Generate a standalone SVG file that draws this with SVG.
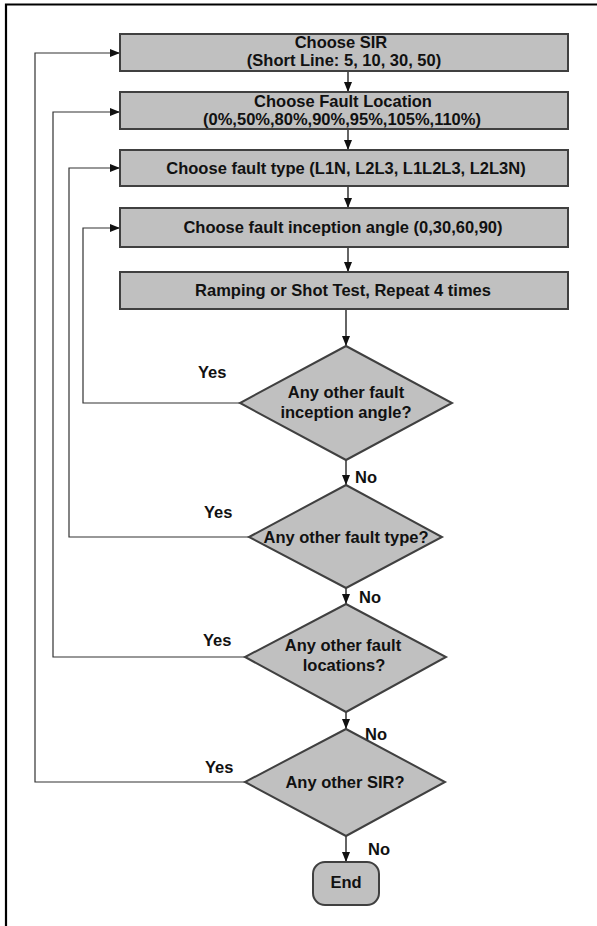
<svg xmlns="http://www.w3.org/2000/svg" width="597" height="926" viewBox="0 0 597 926">
<style>
.box{fill:#c0c0c0;stroke:#404040;stroke-width:2}
.t{font-family:"Liberation Sans",Arial,sans-serif;font-weight:bold;font-size:16.5px;fill:#111;text-anchor:middle}
.lb{font-family:"Liberation Sans",Arial,sans-serif;font-weight:bold;font-size:16.5px;fill:#111}
.c{fill:none;stroke:#111;stroke-width:1.3}
.l{fill:none;stroke:#333;stroke-width:1.2}
</style>
<defs>
<marker id="ah" viewBox="0 0 10 10" refX="10" refY="5" markerWidth="10" markerHeight="10" markerUnits="userSpaceOnUse" orient="auto">
<path d="M0,1 L10,5 L0,9 Z" fill="#111"/>
</marker>
</defs>
<rect width="597" height="926" fill="#fff"/>
<path d="M6,926 V4.5 H597" fill="none" stroke="#000" stroke-width="2.2"/>
<g id="connectors">
<line class="c" x1="348" y1="71" x2="348" y2="92" marker-end="url(#ah)"/>
<line class="c" x1="348" y1="129" x2="348" y2="150" marker-end="url(#ah)"/>
<line class="c" x1="348" y1="186" x2="348" y2="208" marker-end="url(#ah)"/>
<line class="c" x1="348" y1="247" x2="348" y2="272" marker-end="url(#ah)"/>
<line class="c" x1="346" y1="309" x2="346" y2="346" marker-end="url(#ah)"/>
<line class="c" x1="346" y1="460" x2="346" y2="485" marker-end="url(#ah)"/>
<line class="c" x1="346" y1="588" x2="346" y2="604" marker-end="url(#ah)"/>
<line class="c" x1="346" y1="712" x2="346" y2="729" marker-end="url(#ah)"/>
<line class="c" x1="346" y1="836" x2="346" y2="862" marker-end="url(#ah)"/>
<path class="l" d="M240,403 H83 V228 H120" marker-end="url(#ah)"/>
<path class="l" d="M249,537 H69 V168 H120" marker-end="url(#ah)"/>
<path class="l" d="M245,657 H53 V112 H120" marker-end="url(#ah)"/>
<path class="l" d="M245,782 H35 V53 H120" marker-end="url(#ah)"/>
<text class="lb" x="198" y="378">Yes</text>
<text class="lb" x="204" y="518">Yes</text>
<text class="lb" x="203" y="646">Yes</text>
<text class="lb" x="205" y="773">Yes</text>
<text class="lb" x="355" y="483">No</text>
<text class="lb" x="359" y="603">No</text>
<text class="lb" x="365" y="740">No</text>
<text class="lb" x="368" y="855">No</text>
</g>
<g id="box1">
<rect class="box" x="120" y="34" width="448" height="37"/>
<text class="t" x="341" y="48">Choose SIR</text>
<text class="t" x="344" y="66">(Short Line: 5, 10, 30, 50)</text>
</g>
<g id="box2">
<rect class="box" x="120" y="92" width="448" height="37"/>
<text class="t" x="343" y="107">Choose Fault Location</text>
<text class="t" x="342" y="125">(0%,50%,80%,90%,95%,105%,110%)</text>
</g>
<g id="box3">
<rect class="box" x="120" y="150" width="448" height="36"/>
<text class="t" x="346" y="174">Choose fault type (L1N, L2L3, L1L2L3, L2L3N)</text>
</g>
<g id="box4">
<rect class="box" x="120" y="208" width="448" height="39"/>
<text class="t" x="343" y="233">Choose fault inception angle (0,30,60,90)</text>
</g>
<g id="box5">
<rect class="box" x="120" y="272" width="448" height="37"/>
<text class="t" x="343" y="296">Ramping or Shot Test, Repeat 4 times</text>
</g>
<g id="d1">
<polygon class="box" stroke-width="1.3" points="346,346 452,403 346,460 240,403"/>
<text class="t" x="346" y="398">Any other fault</text>
<text class="t" x="346" y="418">inception angle?</text>
</g>
<g id="d2">
<polygon class="box" stroke-width="1.3" points="346,485 442,537 346,588 249,537"/>
<text class="t" x="346" y="543">Any other fault type?</text>
</g>
<g id="d3">
<polygon class="box" stroke-width="1.3" points="346,604 446,657 346,712 245,657"/>
<text class="t" x="343" y="651">Any other fault</text>
<text class="t" x="344" y="671">locations?</text>
</g>
<g id="d4">
<polygon class="box" stroke-width="1.3" points="346,729 445,782 346,836 245,782"/>
<text class="t" x="345" y="788">Any other SIR?</text>
</g>
<g id="end">
<rect class="box" stroke-width="1.5" x="313" y="862" width="66" height="43" rx="12"/>
<text class="t" x="346" y="888">End</text>
</g>
</svg>
